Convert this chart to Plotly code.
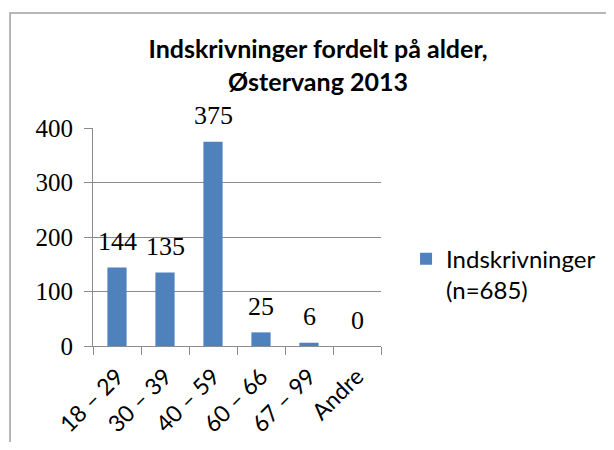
import plotly.graph_objects as go

categories = ["18 – 29", "30 – 39", "40 – 59", "60 – 66", "67 – 99", "Andre"]
values = [144, 135, 375, 25, 6, 0]
series_name = "Indskrivninger<br>(n=685)"
title_text = "Indskrivninger fordelt på alder,<br>Østervang 2013"
y_ticks = [0, 100, 200, 300, 400]

BAR_COLOR = "#4F81BD"
GRID = "#8c8c8c"

W, H = 598, 434  # page body has an 8px margin

fig = go.Figure()
fig.add_trace(go.Bar(
    x=categories, y=values, name=series_name,
    marker=dict(color=BAR_COLOR, line=dict(width=0)),
    showlegend=True,
))

for c, v in zip(categories, values):
    fig.add_annotation(
        x=c, y=v, xref="x", yref="y", text=str(v), showarrow=False,
        yanchor="middle", yshift=26,
        font=dict(family="Liberation Serif", size=26, color="black"),
    )

fig.add_shape(type="rect", xref="paper", yref="paper",
              x0=-0.288, x1=2.0, y0=-1.0, y1=1.5275,
              line=dict(color="#a0a0a0", width=1.5), fillcolor="rgba(0,0,0,0)", layer="below")

fig.update_layout(
    width=W, height=H,
    margin=dict(l=85, r=225, t=120, b=96, autoexpand=False),
    paper_bgcolor="white", plot_bgcolor="white",
    bargap=0.6,
    title=dict(text=title_text, x=310 / W, xanchor="center", xref="container",
               y=1 - 50 / H, yanchor="middle", yref="container",
               font=dict(family="Lato", size=25, color="black", weight="bold")),
    legend=dict(x=1.087, y=0.327, xanchor="left", yanchor="middle", valign="top",
                font=dict(family="Lato", size=24, color="black"),
                bgcolor="rgba(0,0,0,0)", itemwidth=30, tracegroupgap=0),
    showlegend=True,
)
fig.update_xaxes(
    type="category", showline=True, linecolor=GRID, linewidth=1,
    ticks="outside", tickson="boundaries", ticklen=8, tickcolor=GRID,
    tickangle=-45, tickfont=dict(family="Lato", size=23, color="black"),
    ticklabelstandoff=7,
    showgrid=False, automargin=False,
)
fig.update_yaxes(
    range=[0, 400], tickvals=y_ticks, showline=True, linecolor=GRID, linewidth=1,
    ticks="outside", ticklen=8, tickcolor=GRID,
    showgrid=True, gridcolor=GRID, gridwidth=1, zeroline=False,
    tickfont=dict(family="Liberation Serif", size=25, color="black"),
    ticklabelstandoff=6, automargin=False,
)

fig.write_html("out.html")
